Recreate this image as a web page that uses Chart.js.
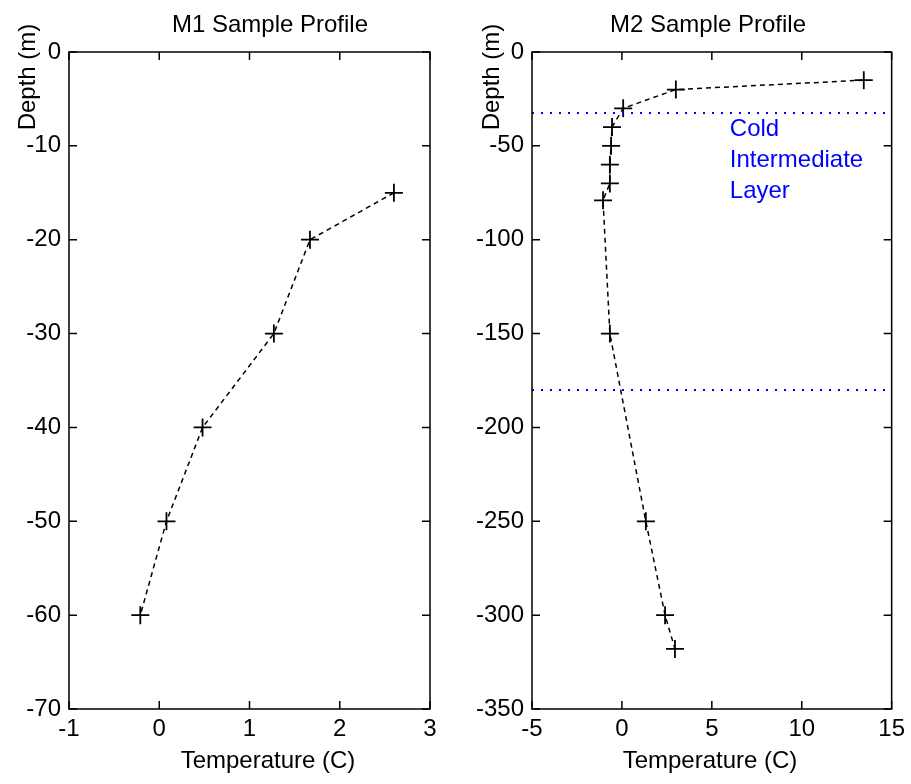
<!DOCTYPE html>
<html>
<head>
<meta charset="utf-8">
<script src="https://cdn.jsdelivr.net/npm/chart.js@4.4.1/dist/chart.umd.min.js"></script>
<style>
  body { margin: 0; background: #fff; }
  #wrap { position: relative; width: 911px; height: 784px; }
  canvas { position: absolute; top: 0; }
</style>
</head>
<body>
<div id="wrap">
  <canvas id="m1" width="455" height="784" style="left:0"></canvas>
  <canvas id="m2" width="456" height="784" style="left:455px"></canvas>
</div>
<script>
// M1 station
const m1Temp = [2.6, 1.67, 1.27, 0.48, 0.08, -0.21];
const m1Depth = [-15, -20, -30, -40, -50, -60];

// M2 station
const m2Temp = [13.45, 3.0, 0.07, -0.55, -0.6, -0.67, -0.67, -1.05, -0.67, 1.33, 2.4, 2.95];
const m2Depth = [-15, -20, -30, -40, -50, -60, -70, -79, -150, -250, -300, -318];

// cold intermediate layer bounds (m)
const cilTop = -32.5;
const cilBottom = -180;
const cilLabel = ['Cold', 'Intermediate', 'Layer'];

const FONT = "'Liberation Sans', Arial, sans-serif";

const toPoints = (xs, ys) => xs.map((v, i) => ({x: v, y: ys[i]}));

// box + inward ticks + text, matlab style
const matlabFrame = {
    id: 'matlabFrame',
    afterDraw(chart, args, opts) {
        const {ctx, chartArea: a, scales: {x, y}} = chart;
        ctx.save();
        ctx.strokeStyle = '#000';
        ctx.lineWidth = 1.5;
        ctx.strokeRect(a.left, a.top, a.right - a.left, a.bottom - a.top);
        ctx.beginPath();
        x.ticks.forEach(t => {
            const px = x.getPixelForValue(t.value);
            ctx.moveTo(px, a.bottom); ctx.lineTo(px, a.bottom - 8);
            ctx.moveTo(px, a.top); ctx.lineTo(px, a.top + 8);
        });
        y.ticks.forEach(t => {
            const py = y.getPixelForValue(t.value);
            ctx.moveTo(a.left, py); ctx.lineTo(a.left + 8, py);
            ctx.moveTo(a.right, py); ctx.lineTo(a.right - 8, py);
        });
        ctx.stroke();

        ctx.fillStyle = '#000';
        ctx.font = '24px ' + FONT;
        ctx.textAlign = 'center';
        ctx.textBaseline = 'alphabetic';
        ctx.fillText(opts.title, opts.titleX, 32);
        ctx.fillText('Temperature (C)', opts.xTitleX, 768);

        ctx.save();
        ctx.translate(opts.yTitleX, 77);
        ctx.rotate(-Math.PI / 2);
        ctx.textBaseline = 'middle';
        ctx.fillText('Depth (m)', 0, 0);
        ctx.restore();

        if (opts.note) {
            ctx.fillStyle = '#0000ff';
            ctx.textAlign = 'left';
            ctx.textBaseline = 'middle';
            const nx = x.getPixelForValue(opts.note.x);
            const ny = y.getPixelForValue(opts.note.y);
            opts.note.lines.forEach((s, i) => ctx.fillText(s, nx, ny + i * 31));
        }
        ctx.restore();
    }
};

const makeChart = (id, datasets, xr, yr, frame, yWidth, padLeft, padRight) => new Chart(document.getElementById(id), {
    type: 'scatter',
    data: { datasets: datasets },
    options: {
        responsive: false,
        animation: false,
        devicePixelRatio: 1,
        layout: { padding: { left: padLeft, right: padRight, top: 52, bottom: 0 } },
        plugins: {
            legend: { display: false },
            tooltip: { enabled: false },
            matlabFrame: frame
        },
        scales: {
            x: {
                type: 'linear',
                min: xr[0], max: xr[1],
                grid: { display: false, drawTicks: false },
                border: { display: false },
                ticks: { stepSize: xr[2], autoSkip: false, maxRotation: 0, padding: 6, color: '#000', font: { family: FONT, size: 24 } },
                afterFit: (s) => { s.height = 75; }
            },
            y: {
                type: 'linear',
                min: yr[0], max: yr[1],
                grid: { display: false, drawTicks: false },
                border: { display: false },
                ticks: { stepSize: yr[2], autoSkip: false, padding: 8, color: '#000', font: { family: FONT, size: 24 } },
                afterFit: (s) => { s.width = yWidth; }
            }
        }
    },
    plugins: [matlabFrame]
});

const profileStyle = {
    showLine: true,
    borderColor: '#000',
    borderWidth: 1.5,
    borderDash: [5, 4],
    pointStyle: 'cross',
    pointRadius: 9,
    pointBorderWidth: 1.8,
    pointBorderColor: '#000',
    backgroundColor: '#000'
};

const cilStyle = {
    showLine: true,
    borderColor: '#0000ff',
    borderWidth: 2,
    borderDash: [2, 7],
    pointRadius: 0
};

makeChart('m1',
    [Object.assign({ data: toPoints(m1Temp, m1Depth) }, profileStyle)],
    [-1, 3, 1], [-70, 0, 10],
    { title: 'M1 Sample Profile', titleX: 270, xTitleX: 268, yTitleX: 28 },
    60, 9, 25);

makeChart('m2',
    [
        Object.assign({ data: toPoints([-5, 15], [cilTop, cilTop]) }, cilStyle),
        Object.assign({ data: toPoints([-5, 15], [cilBottom, cilBottom]) }, cilStyle),
        Object.assign({ data: toPoints(m2Temp, m2Depth) }, profileStyle)
    ],
    [-5, 15, 5], [-350, 0, 50],
    { title: 'M2 Sample Profile', titleX: 253, xTitleX: 255, yTitleX: 37,
      note: { x: 6, y: -41, lines: cilLabel } },
    70, 7, 19);
</script>
</body>
</html>
